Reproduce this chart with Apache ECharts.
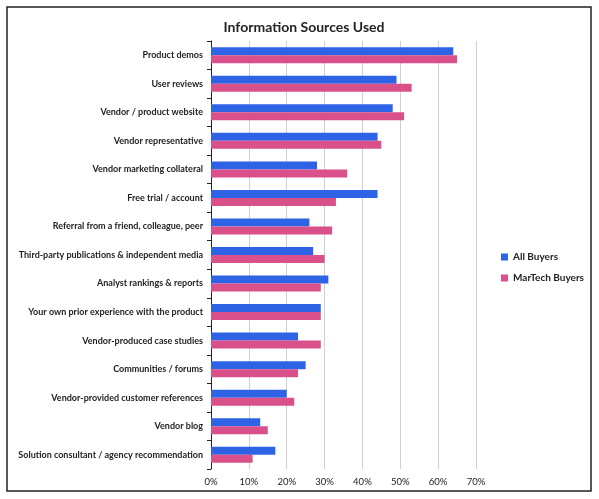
<!DOCTYPE html>
<html>
<head>
<meta charset="utf-8">
<script src="https://cdn.jsdelivr.net/npm/echarts@6/dist/echarts.min.js"></script>
<style>
  html, body { margin: 0; padding: 0; background: #fff; }
  #chart { width: 599px; height: 499px; }
</style>
</head>
<body>
<div id="chart"></div>
<script>
// categories top to bottom, as shown in the picture
var categories = [
    'Product demos',
    'User reviews',
    'Vendor / product website',
    'Vendor representative',
    'Vendor marketing collateral',
    'Free trial / account',
    'Referral from a friend, colleague, peer',
    'Third-party publications & independent media',
    'Analyst rankings & reports',
    'Your own prior experience with the product',
    'Vendor-produced case studies',
    'Communities / forums',
    'Vendor-provided customer references',
    'Vendor blog',
    'Solution consultant / agency recommendation'
];
var allBuyers     = [64, 49, 48, 44, 28, 44, 26, 27, 31, 29, 23, 25, 20, 13, 17];
var martechBuyers = [65, 53, 51, 45, 36, 33, 32, 30, 29, 29, 29, 23, 22, 15, 11];
var seriesNames = ['All Buyers', 'MarTech Buyers'];
var xTicks = [0, 10, 20, 30, 40, 50, 60, 70];

var myChart = echarts.init(document.getElementById('chart'));
var font = 'Lato, "Open Sans", sans-serif';

var option = {
    animation: false,
    backgroundColor: '#fff',
    textStyle: { fontFamily: font },
    title: {
        text: 'Information Sources Used',
        left: 299,
        top: 15,
        textAlign: 'center',
        textStyle: { fontSize: 14, fontWeight: 'bold', color: '#222', fontFamily: font }
    },
    legend: {
        orient: 'vertical',
        left: 496,
        top: 247,
        itemWidth: 7,
        itemHeight: 7,
        itemGap: 11,
        icon: 'rect',
        textStyle: { fontSize: 10, color: '#222', fontFamily: font, fontWeight: 'bold' },
        data: seriesNames
    },
    grid: { left: 211, right: 123, top: 41, bottom: 30, containLabel: false },
    xAxis: {
        type: 'value',
        min: xTicks[0],
        max: xTicks[xTicks.length - 1],
        interval: 10,
        axisLine: { show: false },
        axisTick: { show: false },
        axisLabel: {
            formatter: '{value}%',
            fontSize: 9.5,
            color: '#222',
            margin: 8,
            fontFamily: font
        },
        splitLine: { show: true, lineStyle: { color: '#cfcfcf', width: 1 } }
    },
    yAxis: {
        type: 'category',
        inverse: true,
        data: categories,
        axisLine: { show: true, lineStyle: { color: '#222', width: 1 } },
        axisTick: { show: true, length: 4, lineStyle: { color: '#222' } },
        axisLabel: { fontSize: 9, color: '#222', margin: 8, fontFamily: font, fontWeight: 'bold' },
        splitLine: { show: false }
    },
    series: [
        {
            name: seriesNames[0],
            type: 'bar',
            data: allBuyers,
            barWidth: 8,
            barGap: '0%',
            itemStyle: { color: '#2f63e6' }
        },
        {
            name: seriesNames[1],
            type: 'bar',
            data: martechBuyers,
            barWidth: 8,
            barGap: '0%',
            itemStyle: { color: '#d9508b' }
        }
    ],
    graphic: [
        {
            type: 'rect',
            shape: { x: 7, y: 7, width: 584, height: 484 },
            style: { fill: 'none', stroke: '#222', lineWidth: 1.5 },
            silent: true
        }
    ]
};

myChart.setOption(option);
</script>
</body>
</html>
